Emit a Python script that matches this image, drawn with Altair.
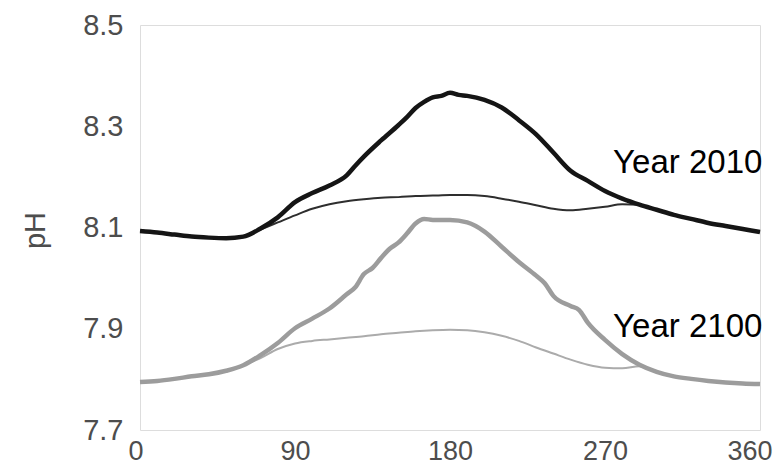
import altair as alt
import pandas as pd

# Thick black: Year 2010 (full)
x_2010_thick = [0, 10, 20, 30, 40, 50, 60, 70, 80, 90, 100, 110, 120, 125, 130, 140, 150, 155, 160, 165, 170, 175, 180, 185, 190, 200, 210, 220, 230, 240, 250, 260, 270, 280, 290, 300, 310, 320, 330, 340, 350, 360]
y_2010_thick = [8.093, 8.090, 8.086, 8.082, 8.080, 8.079, 8.082, 8.098, 8.120, 8.150, 8.168, 8.183, 8.203, 8.222, 8.240, 8.272, 8.302, 8.318, 8.336, 8.348, 8.357, 8.360, 8.366, 8.362, 8.360, 8.352, 8.337, 8.312, 8.284, 8.248, 8.212, 8.192, 8.172, 8.157, 8.145, 8.135, 8.125, 8.117, 8.109, 8.103, 8.097, 8.091]

# Thin black: Year 2010 (second curve)
x_2010_thin = [0, 10, 20, 30, 40, 50, 60, 70, 80, 90, 100, 110, 120, 130, 140, 150, 160, 170, 180, 190, 200, 210, 220, 230, 240, 250, 260, 270, 280, 290, 300, 310, 320, 330, 340, 350, 360]
y_2010_thin = [8.093, 8.090, 8.086, 8.082, 8.080, 8.079, 8.082, 8.096, 8.110, 8.124, 8.137, 8.146, 8.152, 8.156, 8.159, 8.160, 8.162, 8.163, 8.164, 8.164, 8.162, 8.157, 8.151, 8.144, 8.137, 8.134, 8.137, 8.141, 8.146, 8.145, 8.135, 8.125, 8.117, 8.109, 8.103, 8.097, 8.091]

# Thick grey: Year 2100 (full)
x_2100_thick = [0, 10, 20, 30, 40, 50, 60, 70, 80, 90, 100, 110, 120, 125, 130, 135, 140, 145, 150, 155, 160, 165, 170, 180, 190, 200, 210, 220, 230, 235, 240, 250, 255, 260, 270, 280, 290, 300, 310, 320, 330, 340, 350, 360]
y_2100_thick = [7.795, 7.797, 7.801, 7.806, 7.810, 7.817, 7.828, 7.848, 7.872, 7.901, 7.920, 7.940, 7.968, 7.982, 8.008, 8.020, 8.040, 8.058, 8.070, 8.088, 8.108, 8.117, 8.115, 8.115, 8.110, 8.092, 8.062, 8.032, 8.005, 7.990, 7.965, 7.945, 7.937, 7.912, 7.878, 7.850, 7.829, 7.815, 7.806, 7.801, 7.797, 7.794, 7.792, 7.791]

# Thin grey: Year 2100 (second curve)
x_2100_thin = [0, 10, 20, 30, 40, 50, 60, 70, 80, 90, 100, 110, 120, 130, 140, 150, 160, 170, 180, 190, 200, 210, 220, 230, 240, 250, 260, 270, 280, 290, 300, 310, 320, 330, 340, 350, 360]
y_2100_thin = [7.795, 7.797, 7.801, 7.806, 7.810, 7.817, 7.828, 7.842, 7.860, 7.871, 7.876, 7.879, 7.882, 7.885, 7.889, 7.892, 7.895, 7.897, 7.898, 7.897, 7.893, 7.886, 7.876, 7.863, 7.851, 7.839, 7.829, 7.823, 7.822, 7.826, 7.815, 7.806, 7.801, 7.797, 7.794, 7.792, 7.791]

label_text = ["Year 2010", "Year 2100"]
label_x = [274.7, 274.7]
label_y = [8.2077, 7.8837]

x_ticks = [0, 90, 180, 270, 360]
y_ticks = [7.7, 7.9, 8.1, 8.3, 8.5]

FONT = "Liberation Sans"

xs = alt.Scale(domain=[0, 360], nice=False)
ys = alt.Scale(domain=[7.7, 8.5], nice=False)

x_axis = alt.Axis(values=x_ticks, title=None, grid=False, ticks=False, domain=False,
                  labelFont=FONT, labelFontSize=27, labelColor="#4d4d4d", labelPadding=8,
                  labelFlush=True, labelFlushOffset=12)
y_axis = alt.Axis(values=y_ticks, title="pH", grid=False, ticks=False, domain=False,
                  format=".1f", labelFont=FONT, labelFontSize=29, labelColor="#4d4d4d",
                  labelPadding=17, titleFont=FONT, titleFontSize=29, titleColor="#4d4d4d",
                  titleFontWeight="normal", titleAngle=-90, titleX=-105, titleY=205,
                  titleAlign="center", titleBaseline="middle")


def line(xv, yv, color, width):
    df = pd.DataFrame({"x": xv, "y": yv})
    return alt.Chart(df).mark_line(color=color, strokeWidth=width, interpolate="monotone").encode(
        x=alt.X("x:Q", scale=xs, axis=x_axis),
        y=alt.Y("y:Q", scale=ys, axis=y_axis),
    )


labels_df = pd.DataFrame({"x": label_x, "y": label_y, "t": label_text})
labels = alt.Chart(labels_df).mark_text(align="left", baseline="alphabetic", font=FONT,
                                        fontSize=33, color="#000000").encode(
    x=alt.X("x:Q", scale=xs), y=alt.Y("y:Q", scale=ys), text="t:N")

chart = alt.layer(
    line(x_2100_thin, y_2100_thin, "#ababab", 2),
    line(x_2100_thick, y_2100_thick, "#9c9c9c", 4.5),
    line(x_2010_thin, y_2010_thin, "#2e2e2e", 2),
    line(x_2010_thick, y_2010_thick, "#151515", 4.5),
    labels,
).properties(
    width=620, height=405,
    autosize=alt.AutoSizeParams(type="none"),
    padding={"left": 132, "top": 17, "right": 15, "bottom": 38},
).configure_view(stroke="#a8a8a8", strokeWidth=2).configure(background="white")

chart.save("out.html", embed_options={"renderer": "svg", "actions": False})
